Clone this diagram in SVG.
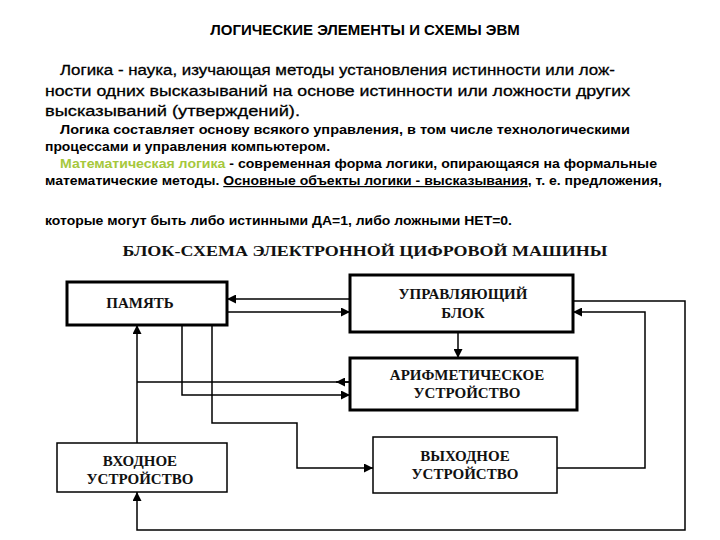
<svg xmlns="http://www.w3.org/2000/svg" width="720" height="540" viewBox="0 0 720 540">
<style>
.t{font-family:"Liberation Sans",Arial,sans-serif;fill:#000}
.b{font-family:"Liberation Serif","Times New Roman",serif;font-weight:bold;font-size:15px;text-anchor:middle;fill:#111}
.box{fill:#fff;stroke:#000}
.c{fill:none;stroke:#000;stroke-width:1.5}
</style>
<defs><marker id="a" viewBox="0 0 10 10" refX="10" refY="5" markerWidth="6" markerHeight="6" orient="auto"><path d="M0,0L10,5L0,10z" fill="#000"/></marker></defs>
<rect width="720" height="540" fill="#fff"/>
<text class="t" x="365" y="35" font-size="15" font-weight="bold" text-anchor="middle">ЛОГИЧЕСКИЕ ЭЛЕМЕНТЫ И СХЕМЫ ЭВМ</text>
<g class="t" font-size="15.5" font-weight="bold" stroke="#000" stroke-width="0">
<text x="60" y="75" textLength="555" lengthAdjust="spacingAndGlyphs" font-weight="normal" stroke-width="0.3">Логика - наука, изучающая методы установления истинности или лож-</text>
<text x="45" y="96" textLength="585" lengthAdjust="spacingAndGlyphs" font-weight="normal" stroke-width="0.3">ности одних высказываний на основе истинности  или  ложности других</text>
<text x="45" y="116" textLength="255" lengthAdjust="spacingAndGlyphs" font-weight="normal" stroke-width="0.3">высказываний (утверждений).</text>
</g>
<g class="t" font-size="12" font-weight="bold">
<text x="60" y="134" textLength="570" lengthAdjust="spacingAndGlyphs">Логика составляет основу всякого управления,   в  том  числе технологическими</text>
<text x="45" y="151" textLength="285" lengthAdjust="spacingAndGlyphs">процессами и управления компьютером.</text>
<text x="60" y="168" textLength="597" lengthAdjust="spacingAndGlyphs"><tspan fill="#a6c83c">Математическая логика</tspan> - современная форма логики,  опирающаяся на формальные</text>
<text x="45" y="185" textLength="617" lengthAdjust="spacingAndGlyphs">математические методы. <tspan text-decoration="underline">Основные объекты логики - высказывания</tspan>, т. е. предложения,</text>
<text x="45" y="225" textLength="467" lengthAdjust="spacingAndGlyphs">которые могут быть либо истинными ДА=1, либо ложными НЕТ=0.</text>
</g>
<text class="b" x="365" y="256" font-size="15" textLength="485" lengthAdjust="spacingAndGlyphs">БЛОК-СХЕМА ЭЛЕКТРОННОЙ ЦИФРОВОЙ МАШИНЫ</text>
<g id="connectors">
<path class="c" d="M350,299H227" marker-end="url(#a)"/>
<path class="c" d="M227,312H350" marker-end="url(#a)"/>
<path class="c" d="M458,332V358" stroke-width="1" marker-end="url(#a)"/>
<path class="c" d="M137,443V325" marker-end="url(#a)"/>
<path class="c" d="M350,382H137"/>
<path class="c" d="M350,382H336" marker-end="url(#a)"/>
<path class="c" d="M182,325V395H350" marker-end="url(#a)"/>
<path class="c" d="M212,325V423H297V468H373" marker-end="url(#a)"/>
<path class="c" d="M557,468H645V312H573" marker-end="url(#a)"/>
<path class="c" d="M573,301H685V530H137V492" marker-end="url(#a)"/>
</g>
<g id="pamyat"><rect class="box" x="67" y="282" width="160" height="43" stroke-width="3"/><text class="b" x="140" y="308">ПАМЯТЬ</text></g>
<g id="ub"><rect class="box" x="350" y="275" width="223" height="57" stroke-width="3"/><text class="b" x="463" y="299">УПРАВЛЯЮЩИЙ</text><text class="b" x="463" y="318">БЛОК</text></g>
<g id="au"><rect class="box" x="350" y="358" width="227" height="52" stroke-width="3"/><text class="b" x="467" y="380">АРИФМЕТИЧЕСКОЕ</text><text class="b" x="467" y="398">УСТРОЙСТВО</text></g>
<g id="out"><rect class="box" x="373" y="437" width="184" height="56" stroke-width="1.5"/><text class="b" x="465" y="461">ВЫХОДНОЕ</text><text class="b" x="465" y="479">УСТРОЙСТВО</text></g>
<g id="in"><rect class="box" x="57" y="443" width="170" height="49" stroke-width="1.5"/><text class="b" x="140" y="466">ВХОДНОЕ</text><text class="b" x="140" y="484">УСТРОЙСТВО</text></g>
</svg>
